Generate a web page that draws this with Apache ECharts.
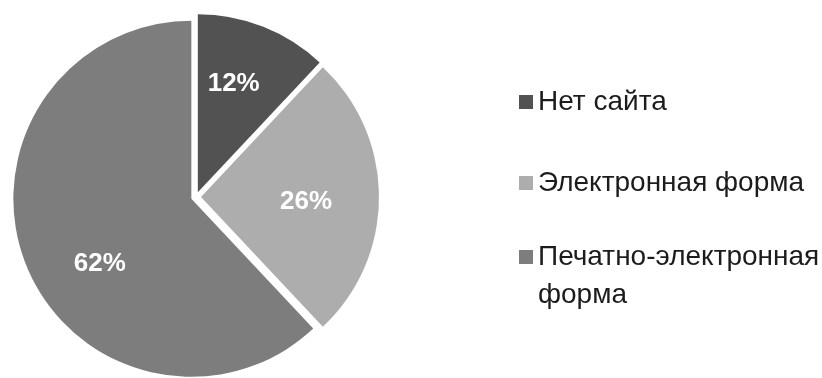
<!DOCTYPE html>
<html>
<head>
<meta charset="utf-8">
<script src="https://cdn.jsdelivr.net/npm/echarts@6/dist/echarts.min.js"></script>
<style>
  html, body { margin: 0; padding: 0; background: #ffffff; }
  #chart { width: 822px; height: 378px; }
</style>
</head>
<body>
<div id="chart"></div>
<script>
// Website availability: share of each publication form
const categories = ['Нет сайта', 'Электронная форма', 'Печатно-электронная форма'];
const shares = [12, 26, 62];
const sliceColors = ['#525252', '#adadad', '#7d7d7d'];

const FONT = '"Liberation Sans", Arial, sans-serif';

// label nudges (dx, dy) for each slice, in pixels
const labelNudge = [[2, -23], [13, 5], [-6, 31]];

const chart = echarts.init(document.getElementById('chart'), null, { renderer: 'canvas' });

const legendText = {
  fontFamily: FONT,
  fontSize: 28,
  color: '#1c1c1c',
  lineHeight: 38
};

function legendFor(index, top, extra) {
  return Object.assign({
    orient: 'vertical',
    left: 519,
    top: top,
    padding: 0,
    itemWidth: 14,
    itemHeight: 14,
    icon: 'rect',
    selectedMode: false,
    data: [categories[index]],
    textStyle: Object.assign({}, legendText)
  }, extra || {});
}

const option = {
  animation: false,
  backgroundColor: '#ffffff',
  legend: [
    legendFor(0, 83),
    legendFor(1, 164),
    // two-line entry: a blank line above keeps the marker level with the first line
    legendFor(2, 200, {
      formatter: name => {
        const parts = name.split(' ');
        return '{e| }\n{t|' + parts[0] + '}\n{t|' + parts.slice(1).join(' ') + '}';
      },
      textStyle: Object.assign({}, legendText, {
        rich: {
          e: { fontSize: 28, lineHeight: 38, fontFamily: FONT },
          t: { fontSize: 28, lineHeight: 38, fontFamily: FONT, color: '#1c1c1c' }
        }
      })
    })
  ],
  series: [{
    type: 'pie',
    center: [196, 197],
    radius: 178,
    startAngle: 90,
    clockwise: true,
    selectedMode: 'multiple',
    selectedOffset: 5,
    avoidLabelOverlap: false,
    emphasis: { disabled: true },
    itemStyle: { borderWidth: 0 },
    label: {
      show: true,
      position: 'inside',
      formatter: '{c}%',
      color: '#ffffff',
      fontFamily: FONT,
      fontWeight: 'bold',
      fontSize: 26
    },
    labelLine: { show: false },
    labelLayout: function (params) {
      const n = labelNudge[params.dataIndex];
      return { dx: n[0], dy: n[1] };
    },
    data: categories.map((name, i) => ({
      name: name,
      value: shares[i],
      selected: true,
      itemStyle: { color: sliceColors[i] }
    }))
  }]
};

chart.setOption(option);
</script>
</body>
</html>
